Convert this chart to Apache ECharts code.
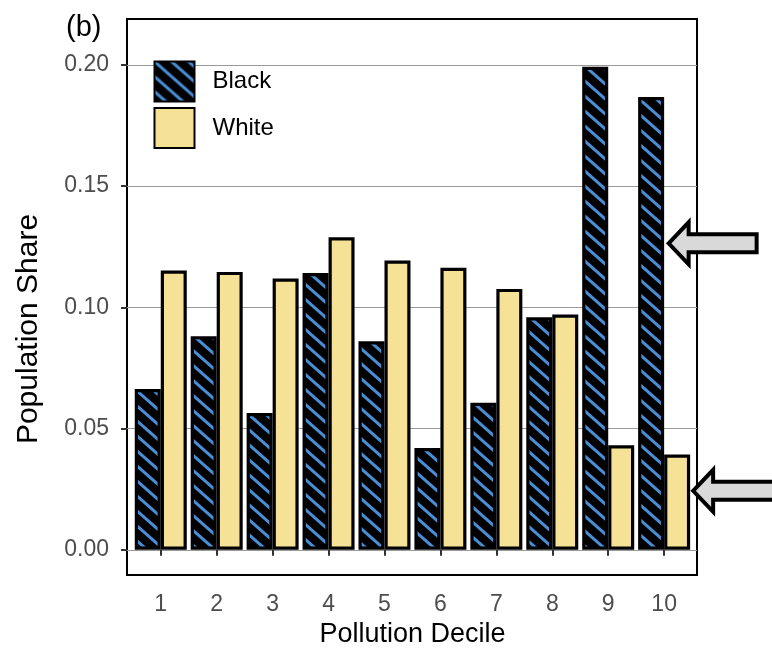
<!DOCTYPE html>
<html>
<head>
<meta charset="utf-8">
<script src="https://cdn.jsdelivr.net/npm/echarts@6/dist/echarts.min.js"></script>
<style>
  html, body { margin: 0; padding: 0; background: #fff; }
  #chart { width: 772px; height: 648px; }
</style>
</head>
<body>
<div id="chart"></div>
<script>
// ---- data ----
const deciles = ['1', '2', '3', '4', '5', '6', '7', '8', '9', '10'];
const blackShare = [0.0663, 0.0881, 0.0564, 0.1141, 0.0860, 0.0420, 0.0606, 0.0959, 0.1992, 0.1867];
const whiteShare = [0.1152, 0.1146, 0.1119, 0.1289, 0.1193, 0.1163, 0.1076, 0.0970, 0.0431, 0.0393];
const yTicks = [0.00, 0.05, 0.10, 0.15, 0.20];
const arrowTargets = [0.1264, 0.0243]; // arrow tip heights (black bar 10, white bar 10)

const FONT = '"Liberation Sans", Arial, sans-serif';

// hatch pattern: black with blue diagonal stripes
function makeHatch() {
  const W = 17, H = 15;
  const c = document.createElement('canvas');
  c.width = W; c.height = H;
  const g = c.getContext('2d');
  g.fillStyle = '#000';
  g.fillRect(0, 0, W, H);
  g.strokeStyle = '#4A8FD6';
  g.lineWidth = 3;
  for (let k = -1; k <= 1; k++) {
    g.beginPath();
    g.moveTo(k * W - W * 0.2, -H * 0.2);
    g.lineTo(k * W + W * 1.2, H * 1.2);
    g.stroke();
  }
  return c;
}
const hatch = { image: makeHatch(), repeat: 'repeat' };

const yMin = -0.0104, yMax = 0.2189;

const chart = echarts.init(document.getElementById('chart'), null, { renderer: 'canvas' });

chart.setOption({
  animation: false,
  backgroundColor: '#fff',
  textStyle: { fontFamily: FONT },
  title: {
    text: '(b)', left: 61, top: 8,
    textStyle: { fontFamily: FONT, fontSize: 29, fontWeight: 'normal', color: '#000' }
  },
  legend: {
    data: ['Black', 'White'],
    orient: 'vertical',
    left: 153.5, top: 60.5, padding: 0,
    itemWidth: 40, itemHeight: 40, itemGap: 4.5,
    icon: 'rect',
    selectedMode: false,
    textStyle: { fontFamily: FONT, fontSize: 24, color: '#000', padding: [0, 0, 0, 13] }
  },
  grid: [
    { left: 127, top: 19, width: 570, height: 556, show: true, borderColor: '#000', borderWidth: 2,
      backgroundColor: 'transparent', containLabel: false, outerBoundsMode: 'none' },
    { left: 132.8, top: 19, width: 559.3, height: 556, containLabel: false, outerBoundsMode: 'none' }
  ],
  xAxis: [
    { gridIndex: 0, type: 'value', min: 0, max: 1, show: false },
    {
      gridIndex: 1, type: 'category', data: deciles,
      axisLine: { show: false },
      axisTick: { show: true, alignWithLabel: true, length: 6, lineStyle: { color: '#333', width: 2 } },
      axisLabel: { fontFamily: FONT, fontSize: 23, color: '#4D4D4D', margin: 18 },
      name: 'Pollution Decile', nameLocation: 'middle', nameGap: 46,
      nameTextStyle: { fontFamily: FONT, fontSize: 27, color: '#000' }
    }
  ],
  yAxis: [
    {
      gridIndex: 0, type: 'value', min: yMin, max: yMax,
      axisLine: { show: false },
      axisTick: { show: true, customValues: yTicks, length: 6, lineStyle: { color: '#333', width: 2 } },
      axisLabel: {
        customValues: yTicks, fontFamily: FONT, fontSize: 23, color: '#4D4D4D', margin: 18,
        formatter: v => v.toFixed(2)
      },
      splitLine: { show: true, lineStyle: { color: '#9a9a9a', width: 1.2 } }
    },
    { gridIndex: 1, type: 'value', min: yMin, max: yMax, show: false, splitLine: { show: false } }
  ],
  series: [
    {
      name: 'Black', type: 'bar', xAxisIndex: 1, yAxisIndex: 1,
      data: blackShare, barWidth: 26, barGap: '0%',
      itemStyle: { color: hatch, borderColor: '#000', borderWidth: 3.2 }
    },
    {
      name: 'White', type: 'bar', xAxisIndex: 1, yAxisIndex: 1,
      data: whiteShare, barWidth: 26, barGap: '0%',
      itemStyle: { color: '#F6E296', borderColor: '#000', borderWidth: 3.2 }
    }
  ]
});

// arrows (annotations), placed through the chart's own scales
function arrowShape(tipX, tipY) {
  const L = 88, headLen = 20, headH = 21, bodyH = 9;
  return [
    [tipX, tipY],
    [tipX + headLen, tipY - headH],
    [tipX + headLen, tipY - bodyH],
    [tipX + L, tipY - bodyH],
    [tipX + L, tipY + bodyH],
    [tipX + headLen, tipY + bodyH],
    [tipX + headLen, tipY + headH]
  ];
}
const c10 = chart.convertToPixel({ xAxisIndex: 1 }, '10');
const tip1y = chart.convertToPixel({ yAxisIndex: 1 }, arrowTargets[0]);
const tip2y = chart.convertToPixel({ yAxisIndex: 1 }, arrowTargets[1]);
const tips = [[c10 + 4.5, tip1y], [c10 + 29, tip2y]];
const graphics = tips.map(t => ({
  type: 'polygon',
  shape: { points: arrowShape(t[0], t[1]) },
  style: { fill: '#D9D9D9', stroke: '#000', lineWidth: 4, lineJoin: 'miter', miterLimit: 10 },
  z: 100
}));
graphics.push({
  type: 'text',
  x: 29, y: 329,
  rotation: Math.PI / 2,
  style: {
    text: 'Population Share', fontFamily: FONT, fontSize: 30, fill: '#000',
    align: 'center', verticalAlign: 'middle'
  },
  z: 100
});
chart.setOption({ graphic: graphics });
</script>
</body>
</html>
